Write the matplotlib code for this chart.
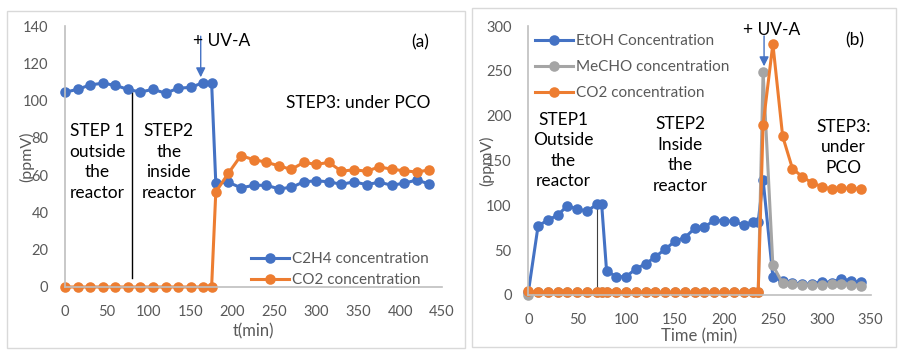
import matplotlib
matplotlib.use("Agg")
import matplotlib.pyplot as plt
from matplotlib.patches import Rectangle

plt.rcParams["font.family"] = ["Lato", "DejaVu Sans"]

BLUE = "#4472C4"
ORANGE = "#ED7D31"
GRAY = "#A5A5A5"
TXT = "#595959"

# ---- panel (a): ethylene ----
t_a = [0, 15, 30, 45, 60, 75, 90, 105, 120, 135, 150, 165, 175,
       180, 195, 210, 225, 240, 255, 270, 285, 300, 315, 330, 345,
       360, 375, 390, 405, 420, 435]
c2h4 = [104.5, 106, 108.4, 109.3, 108.2, 106, 104.6, 106, 104, 106.6, 107.1, 109.6, 109.6,
        55.7, 56.2, 53.2, 54.5, 54.6, 52.7, 53.4, 56.4, 57, 56.4, 55.1, 56.4,
        54.9, 56.2, 54.6, 55.7, 57.4, 55.2]
co2_a = [0, 0, 0, 0, 0, 0, 0, 0, 0, 0, 0, 0, 0,
         51, 61, 70.5, 68.3, 67, 65, 63.1, 66.8, 65.8, 66.8, 62.1, 62.9,
         62.1, 64.4, 63.2, 62.3, 61.7, 62.8]

# ---- panel (b): ethanol ----
t_b = [0, 10, 20, 30, 40, 50, 60, 70, 75,
       80, 90, 100, 110, 120, 130, 140, 150, 160, 170, 180, 190, 200, 210, 220, 230,
       235, 240,
       250, 260, 270, 280, 290, 300, 310, 320, 330, 340]
etoh = [3, 77, 83.6, 89, 99.6, 95.7, 93.6, 101, 101,
        27, 20.4, 20.4, 29.3, 34.7, 42.7, 51.2, 60, 64, 74.2, 75.5, 83.5, 82.5, 82.3, 78, 81.7,
        81.7, 128.5,
        20.4, 15.6, 13, 12.3, 12, 15, 13.8, 18.2, 15.6, 14]
mecho = [0, 3, 3, 3, 3, 3, 3, 3, 3,
         3, 3, 3, 3, 3, 3, 3, 3, 3, 3, 3, 3, 3, 3, 3, 3,
         3, 249,
         33, 13, 12.3, 11, 11, 11, 12, 12, 11, 10]
co2_b = [4, 3, 3, 3, 3, 3, 3, 3, 3,
         3, 3, 3, 3, 3, 3, 3, 3, 3, 3, 3, 3, 3, 3, 3, 3,
         3, 190,
         280, 177, 141, 132, 125, 121, 118, 119, 119, 118]

W, H = 904, 353
fig = plt.figure(figsize=(W / 100, H / 100), dpi=100)

# chart-area borders, as in the spreadsheet export
for x0, y0, x1, y1 in [(7, 11, 465, 348), (472, 8, 896, 347)]:
    fig.add_artist(Rectangle((x0 / W, 1 - y1 / H), (x1 - x0) / W, (y1 - y0) / H,
                             transform=fig.transFigure, fill=False,
                             ec="#D9D9D9", lw=1))

ax_a = fig.add_axes([65 / W, 66 / H, 377 / W, 261 / H])
ax_b = fig.add_axes([528.3 / W, 58 / H, 342.4 / W, 269 / H])

line_kw = dict(lw=2.2, marker="o", ms=7.6, markeredgewidth=0)


def style(ax, xmax, ymax, ystep):
    ax.set_xlim(0, xmax)
    ax.set_ylim(0, ymax)
    ax.set_xticks(range(0, xmax + 1, 50))
    ax.set_yticks(range(0, ymax + 1, ystep))
    for side in ["top", "right"]:
        ax.spines[side].set_visible(False)
    for side in ["left", "bottom"]:
        ax.spines[side].set_color("#BFBFBF")
        ax.spines[side].set_linewidth(1.2)
    ax.tick_params(length=0, labelsize=10.5, labelcolor=TXT)
    ax.tick_params(axis="x", pad=13)
    ax.tick_params(axis="y", pad=12)
    ax.patch.set_alpha(0)


style(ax_a, 450, 140, 20)
ax_a.plot(t_a, c2h4, color=BLUE, label="C2H4 concentration", clip_on=False, **line_kw)
ax_a.plot(t_a, co2_a, color=ORANGE, label="CO2 concentration", clip_on=False, **line_kw)
ax_a.plot([80, 80], [5, 106], color="black", lw=1, zorder=1)
ax_a.annotate("", xy=(162, 111), xytext=(162, 136),
              arrowprops=dict(arrowstyle="-|>", color=BLUE, lw=1, mutation_scale=14))
ax_a.text(187, 132, "+ UV-A", fontsize=12.5, ha="center", va="center")
ax_a.text(424, 131, "(a)", fontsize=12.5, ha="center", va="center")
ax_a.text(350, 98.5, "STEP3: under PCO", fontsize=12.5, ha="center", va="center")
ax_a.text(39, 67, "STEP 1\noutside\nthe\nreactor", fontsize=12.5, ha="center",
          va="center", linespacing=1.35)
ax_a.text(124, 67, "STEP2\nthe\ninside\nreactor", fontsize=12.5, ha="center",
          va="center", linespacing=1.35)
ax_a.set_xlabel("t(min)", fontsize=12, color=TXT, labelpad=3)
ax_a.set_ylabel("(ppmV)", fontsize=11.5, color=TXT, labelpad=-8)
ax_a.legend(loc="lower right", bbox_to_anchor=(0.965, 0.0), frameon=False,
            fontsize=11, labelcolor=TXT, handlelength=2.5, handletextpad=0.2,
            labelspacing=0.45, borderpad=0, borderaxespad=0)

style(ax_b, 350, 300, 50)
ax_b.plot(t_b, etoh, color=BLUE, label="EtOH Concentration", clip_on=False, **line_kw)
ax_b.plot(t_b, mecho, color=GRAY, label="MeCHO concentration", clip_on=False, **line_kw)
ax_b.plot(t_b, co2_b, color=ORANGE, label="CO2 concentration", clip_on=False, **line_kw)
ax_b.plot([70, 70], [4, 100], color="#404040", lw=0.8, zorder=1)
ax_b.annotate("", xy=(241, 252), xytext=(241, 292),
              arrowprops=dict(arrowstyle="-|>", color=BLUE, lw=1, mutation_scale=14),
              annotation_clip=False)
ax_b.text(249, 295, "+ UV-A", fontsize=12.5, ha="center", va="center")
ax_b.text(334, 284, "(b)", fontsize=12.5, ha="center", va="center")
ax_b.text(36, 161, "STEP1\nOutside\nthe\nreactor", fontsize=12.5, ha="center",
          va="center", linespacing=1.35)
ax_b.text(155, 156, "STEP2\nInside\nthe\nreactor", fontsize=12.5, ha="center",
          va="center", linespacing=1.35)
ax_b.text(322, 165, "STEP3:\nunder\nPCO", fontsize=12.5, ha="center",
          va="center", linespacing=1.35)
ax_b.set_xlabel("Time (min)", fontsize=12, color=TXT, labelpad=1)
ax_b.set_ylabel("(ppmV)", fontsize=11.5, color=TXT, labelpad=-6)
ax_b.legend(loc="upper left", bbox_to_anchor=(0.02, 0.97), frameon=False,
            fontsize=11, labelcolor=TXT, handlelength=2.5, handletextpad=0.2,
            labelspacing=0.78, borderpad=0, borderaxespad=0)

fig.savefig("out.png", dpi=100)
